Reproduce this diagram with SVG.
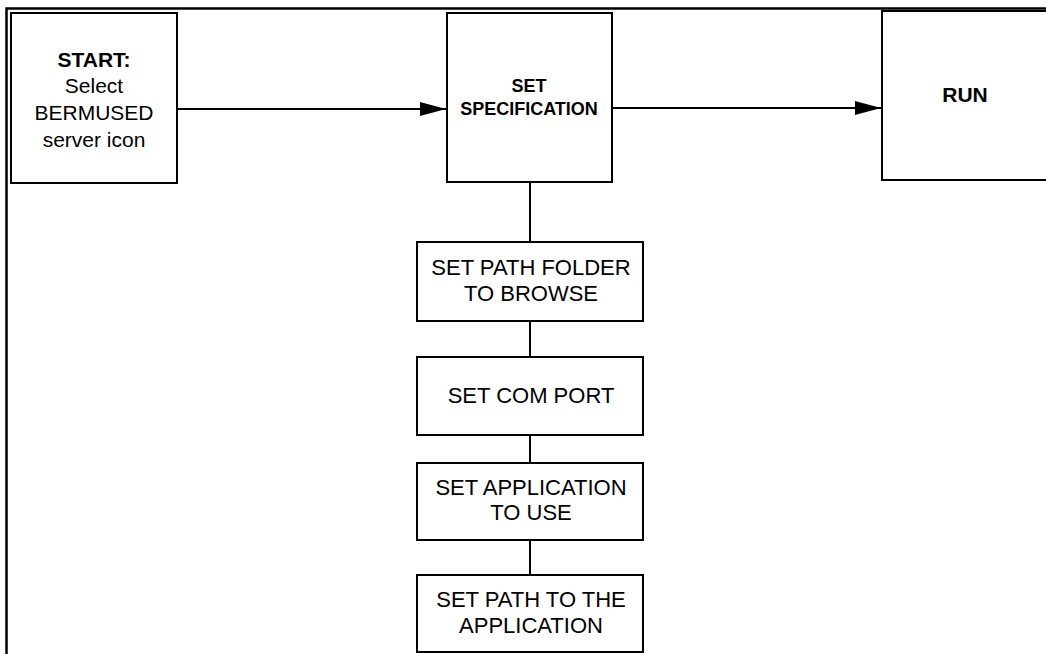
<svg xmlns="http://www.w3.org/2000/svg" width="1046" height="654" viewBox="0 0 1046 654">
<style>
.box{fill:#fff;stroke:#000;stroke-width:2}
.t{font-family:"Liberation Sans",Arial,sans-serif;font-size:21px;text-anchor:middle;fill:#000}
.s{font-size:22px}
.b{font-weight:bold}
.c{stroke:#000;stroke-width:2;fill:none}
</style>
<defs>
<marker id="ah" markerWidth="26" markerHeight="14" refX="26" refY="7" orient="auto" markerUnits="userSpaceOnUse">
<path d="M0,0 L26,7 L0,14 Z" fill="#000"/>
</marker>
</defs>
<rect x="0" y="0" width="1046" height="654" fill="#fff"/>
<path d="M6.5,660 V8.5 H1050" fill="none" stroke="#000" stroke-width="2.5"/>
<g id="connectors">
<line class="c" x1="177" y1="109" x2="446" y2="109" marker-end="url(#ah)"/>
<line class="c" x1="612" y1="108" x2="881" y2="108" marker-end="url(#ah)"/>
<line class="c" x1="530" y1="182" x2="530" y2="242"/>
<line class="c" x1="530" y1="321" x2="530" y2="357"/>
<line class="c" x1="530" y1="435" x2="530" y2="463"/>
<line class="c" x1="530" y1="540" x2="530" y2="575"/>
</g>
<g id="start">
<rect class="box" x="11" y="13" width="166" height="170"/>
<text class="t b" x="94" y="67">START:</text>
<text class="t" x="94" y="93">Select</text>
<text class="t" x="94" y="120">BERMUSED</text>
<text class="t" x="94" y="147">server icon</text>
</g>
<g id="setspec">
<rect class="box" x="447" y="13" width="165" height="169"/>
<text class="t b" x="529" y="92" style="font-size:18px">SET</text>
<text class="t b" x="529" y="115" style="font-size:18px">SPECIFICATION</text>
</g>
<g id="run">
<rect class="box" x="882" y="11" width="170" height="169"/>
<text class="t b" x="965" y="102">RUN</text>
</g>
<g id="pathfolder">
<rect class="box" x="417" y="242" width="226" height="79"/>
<text class="t s" x="531" y="275">SET PATH FOLDER</text>
<text class="t s" x="531" y="301">TO BROWSE</text>
</g>
<g id="comport">
<rect class="box" x="417" y="357" width="226" height="78"/>
<text class="t s" x="531" y="403">SET COM PORT</text>
</g>
<g id="application">
<rect class="box" x="417" y="463" width="226" height="77"/>
<text class="t s" x="531" y="495">SET APPLICATION</text>
<text class="t s" x="531" y="520">TO USE</text>
</g>
<g id="pathapp">
<rect class="box" x="417" y="575" width="226" height="77"/>
<text class="t s" x="531" y="607">SET PATH TO THE</text>
<text class="t s" x="531" y="633">APPLICATION</text>
</g>
</svg>
